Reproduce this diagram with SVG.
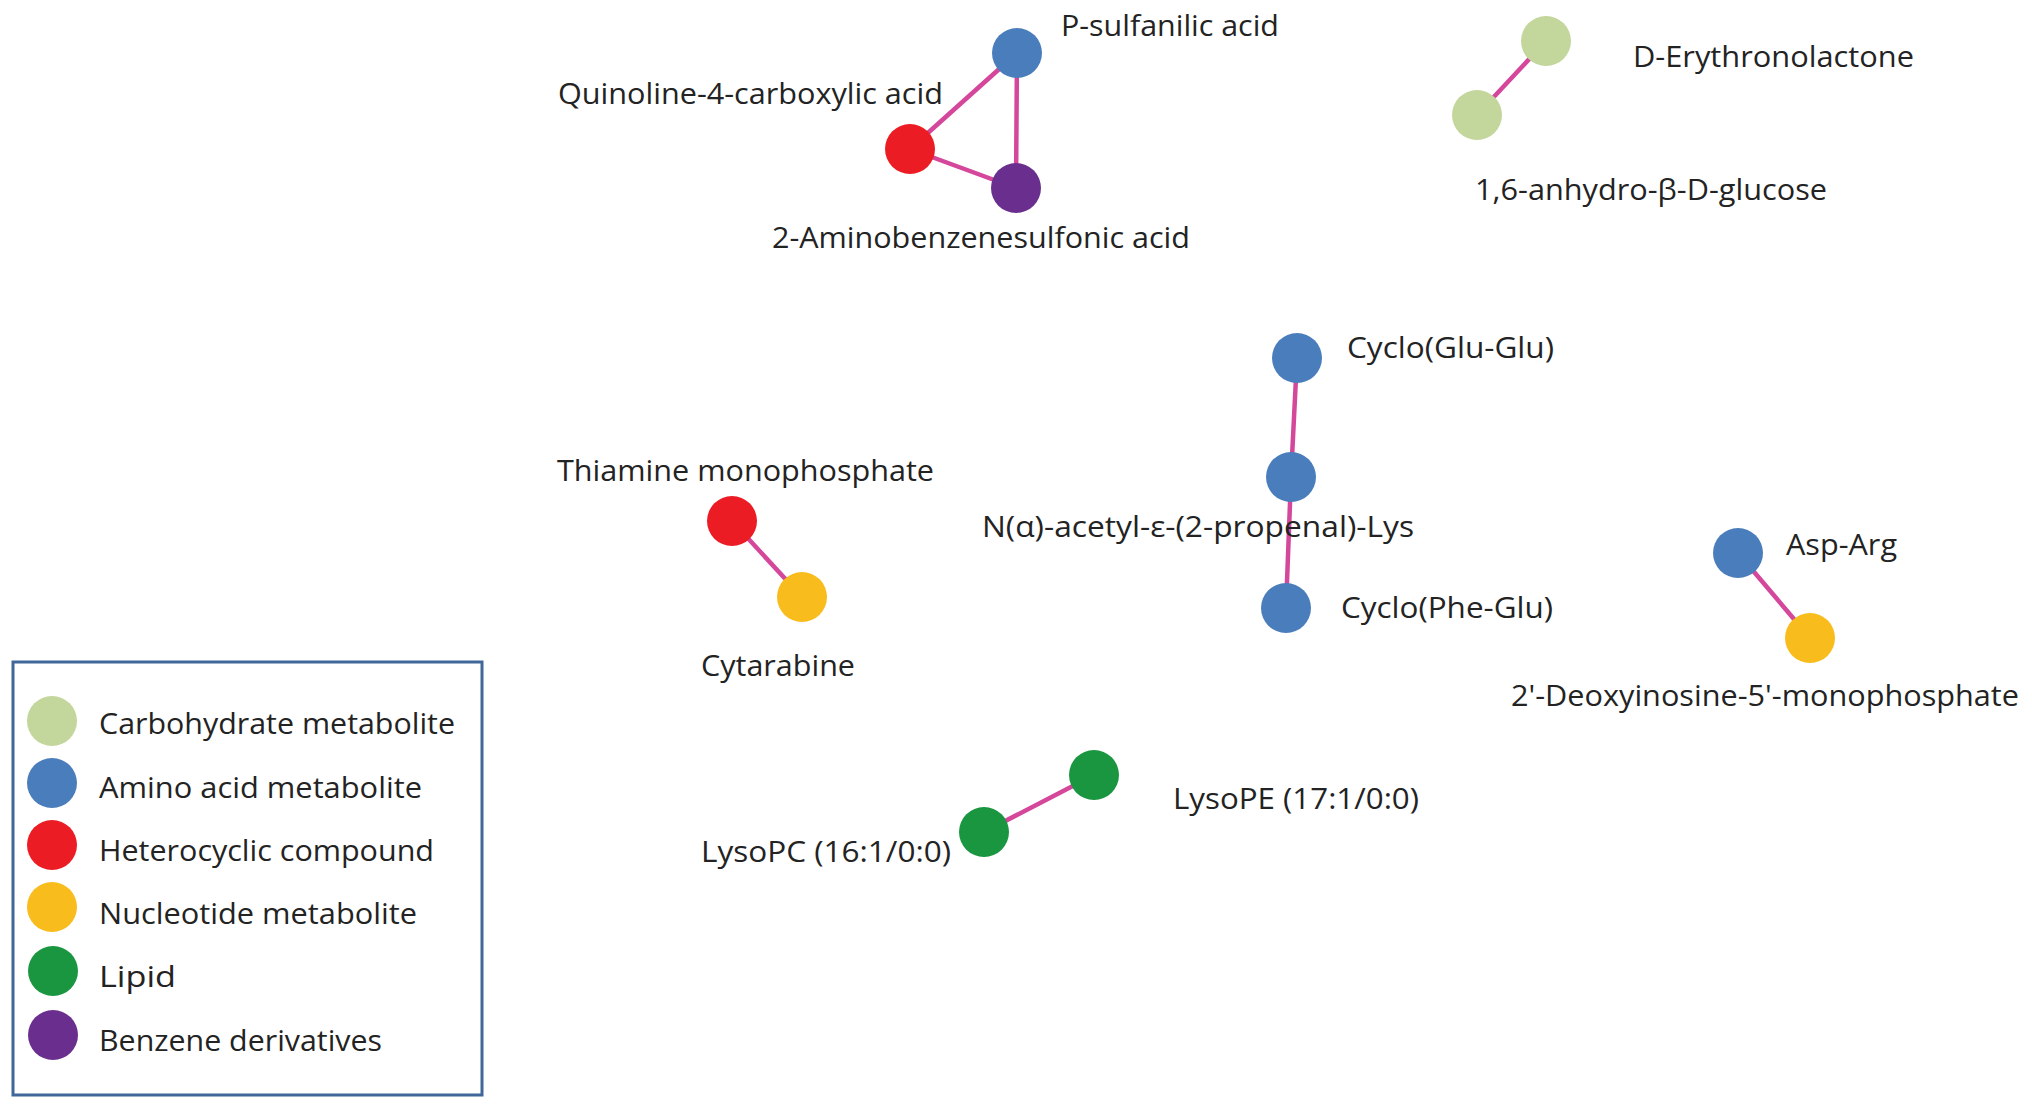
<svg xmlns="http://www.w3.org/2000/svg" width="2032" height="1109" viewBox="0 0 2032 1109">
<style>
text{font-family:"Open Sans","Noto Sans","Liberation Sans",sans-serif;font-size:29px;fill:#232323}
.e{stroke:#d4479b;stroke-width:4.5;stroke-linecap:round}
.cg{fill:#c3d69b}.cb{fill:#4a7dbb}.cr{fill:#ec1c24}.cy{fill:#f8bc1c}.cl{fill:#1a9641}.cp{fill:#6a2e8f}
</style>
<rect width="2032" height="1109" fill="#ffffff"/>
<g id="connectors">
<line class="e" x1="1017" y1="53" x2="910" y2="149"/>
<line class="e" x1="1017" y1="53" x2="1016" y2="188"/>
<line class="e" x1="910" y1="149" x2="1016" y2="188"/>
<line class="e" x1="1546" y1="41" x2="1477" y2="115"/>
<line class="e" x1="1297" y1="358" x2="1291" y2="477"/>
<line class="e" x1="1291" y1="477" x2="1286" y2="608"/>
<line class="e" x1="732" y1="521" x2="802" y2="597"/>
<line class="e" x1="1738" y1="553" x2="1810" y2="638"/>
<line class="e" x1="1094" y1="775" x2="984" y2="832"/>
</g>
<g id="node-psulfanilic"><circle class="cb" cx="1017" cy="53" r="25"/><text x="1061" y="36" textLength="218" lengthAdjust="spacingAndGlyphs">P-sulfanilic acid</text></g>
<g id="node-quinoline"><circle class="cr" cx="910" cy="149" r="25"/><text x="558" y="104" textLength="385" lengthAdjust="spacingAndGlyphs">Quinoline-4-carboxylic acid</text></g>
<g id="node-aminobenzenesulfonic"><circle class="cp" cx="1016" cy="188" r="25"/><text x="772" y="248" textLength="418" lengthAdjust="spacingAndGlyphs">2-Aminobenzenesulfonic acid</text></g>
<g id="node-erythronolactone"><circle class="cg" cx="1546" cy="41" r="25"/><text x="1633" y="67" textLength="281" lengthAdjust="spacingAndGlyphs">D-Erythronolactone</text></g>
<g id="node-anhydroglucose"><circle class="cg" cx="1477" cy="115" r="25"/><text x="1475" y="200" textLength="352" lengthAdjust="spacingAndGlyphs">1,6-anhydro-β-D-glucose</text></g>
<g id="node-cycloglu"><circle class="cb" cx="1297" cy="358" r="25"/><text x="1347" y="358" textLength="207" lengthAdjust="spacingAndGlyphs">Cyclo(Glu-Glu)</text></g>
<g id="node-nacetyl"><circle class="cb" cx="1291" cy="477" r="25"/><text x="982" y="537" textLength="432" lengthAdjust="spacingAndGlyphs">N(α)-acetyl-ε-(2-propenal)-Lys</text></g>
<g id="node-cyclophe"><circle class="cb" cx="1286" cy="608" r="25"/><text x="1341" y="618" textLength="212" lengthAdjust="spacingAndGlyphs">Cyclo(Phe-Glu)</text></g>
<g id="node-thiamine"><circle class="cr" cx="732" cy="521" r="25"/><text x="557" y="481" textLength="377" lengthAdjust="spacingAndGlyphs">Thiamine monophosphate</text></g>
<g id="node-cytarabine"><circle class="cy" cx="802" cy="597" r="25"/><text x="701" y="676" textLength="154" lengthAdjust="spacingAndGlyphs">Cytarabine</text></g>
<g id="node-asparg"><circle class="cb" cx="1738" cy="553" r="25"/><text x="1786" y="555" textLength="111" lengthAdjust="spacingAndGlyphs">Asp-Arg</text></g>
<g id="node-deoxyinosine"><circle class="cy" cx="1810" cy="638" r="25"/><text x="1511" y="706" textLength="508" lengthAdjust="spacingAndGlyphs">2'-Deoxyinosine-5'-monophosphate</text></g>
<g id="node-lysope"><circle class="cl" cx="1094" cy="775" r="25"/><text x="1173" y="809" textLength="246" lengthAdjust="spacingAndGlyphs">LysoPE (17:1/0:0)</text></g>
<g id="node-lysopc"><circle class="cl" cx="984" cy="832" r="25"/><text x="701" y="862" textLength="250" lengthAdjust="spacingAndGlyphs">LysoPC (16:1/0:0)</text></g>
<g id="legend">
<rect x="13" y="662" width="469" height="433" fill="none" stroke="#41679a" stroke-width="3"/>
<circle class="cg" cx="52" cy="721" r="25"/><text x="99" y="734" textLength="356" lengthAdjust="spacingAndGlyphs">Carbohydrate metabolite</text>
<circle class="cb" cx="52" cy="783" r="25"/><text x="99" y="798" textLength="323" lengthAdjust="spacingAndGlyphs">Amino acid metabolite</text>
<circle class="cr" cx="52" cy="845" r="25"/><text x="99" y="861" textLength="335" lengthAdjust="spacingAndGlyphs">Heterocyclic compound</text>
<circle class="cy" cx="52" cy="907" r="25"/><text x="99" y="924" textLength="318" lengthAdjust="spacingAndGlyphs">Nucleotide metabolite</text>
<circle class="cl" cx="53" cy="971" r="25"/><text x="99" y="987" textLength="77" lengthAdjust="spacingAndGlyphs">Lipid</text>
<circle class="cp" cx="53" cy="1035" r="25"/><text x="99" y="1051" textLength="283" lengthAdjust="spacingAndGlyphs">Benzene derivatives</text>
</g>
</svg>
